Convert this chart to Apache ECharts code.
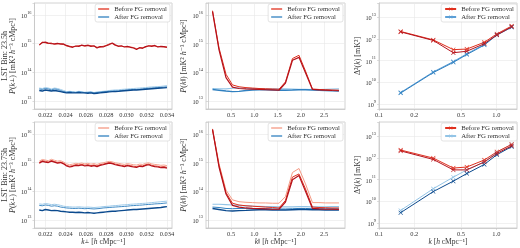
<!DOCTYPE html>
<html>
<head>
<meta charset="utf-8">
<script src="https://cdn.jsdelivr.net/npm/echarts@6/dist/echarts.min.js"></script>
<style>
html, body { margin: 0; padding: 0; background: #fff; }
#chart { width: 520px; height: 248px; }
</style>
</head>
<body>
<div id="chart"></div>
<script>
// k_perp bins (h/cMpc)
const kPerp = [0.0214, 0.0217, 0.0220, 0.0223, 0.0226, 0.0229, 0.0232, 0.0235, 0.0238, 0.0241,
  0.0244, 0.0247, 0.0250, 0.0253, 0.0256, 0.0259, 0.0262, 0.0265, 0.0268, 0.0271,
  0.0274, 0.0277, 0.0280, 0.0283, 0.0286, 0.0289, 0.0292, 0.0295, 0.0298, 0.0301,
  0.0304, 0.0307, 0.0310, 0.0313, 0.0316, 0.0319, 0.0322, 0.0325, 0.0328, 0.0331,
  0.0334, 0.0337, 0.0340];

// LST 23.5h, P(k_perp)
const p1RedA = [88e13, 108e13, 112e13, 104e13, 100e13, 98e13, 102e13, 95e13, 97e13, 86e13,
  78e13, 74e13, 82e13, 80e13, 88e13, 84e13, 86e13, 80e13, 84e13, 70e13,
  78e13, 76e13, 84e13, 92e13, 104e13, 90e13, 80e13, 84e13, 76e13, 80e13,
  74e13, 70e13, 62e13, 72e13, 68e13, 78e13, 84e13, 80e13, 86e13, 76e13,
  80e13, 78e13, 74e13];
const p1RedB = [92e13, 112e13, 106e13, 100e13, 104e13, 94e13, 98e13, 100e13, 92e13, 82e13,
  80e13, 78e13, 80e13, 84e13, 86e13, 80e13, 88e13, 84e13, 80e13, 74e13,
  76e13, 80e13, 86e13, 96e13, 100e13, 86e13, 82e13, 80e13, 78e13, 76e13,
  76e13, 72e13, 66e13, 70e13, 72e13, 76e13, 82e13, 84e13, 82e13, 78e13,
  78e13, 76e13, 76e13];
const p1BlueA = [23e12, 22e12, 24e12, 23e12, 22e12, 23e12, 22e12, 21e12, 20e12, 19e12,
  19.5e12, 19e12, 19e12, 19.5e12, 19e12, 19e12, 18.5e12, 19e12, 18e12, 18.5e12,
  19e12, 19.5e12, 20e12, 20.5e12, 21e12, 21e12, 21.5e12, 22e12, 22.5e12, 23e12,
  23.5e12, 24e12, 24e12, 24.5e12, 25e12, 25.5e12, 26e12, 26.5e12, 27e12, 27.5e12,
  28e12, 28.5e12, 29e12];
const p1BlueB = [26e12, 25e12, 27e12, 26e12, 24e12, 26e12, 25e12, 23e12, 21e12, 20e12,
  20.5e12, 20e12, 19.5e12, 20.5e12, 20e12, 19e12, 19.5e12, 20e12, 18.5e12, 19.5e12,
  20e12, 20.5e12, 21e12, 21.5e12, 22e12, 22.5e12, 22e12, 23e12, 23.5e12, 24e12,
  24.5e12, 25e12, 25e12, 25.5e12, 26e12, 27e12, 27.5e12, 28e12, 28.5e12, 29e12,
  29.5e12, 30e12, 31e12];
const p1BlueC = [28e12, 27e12, 29e12, 28e12, 26e12, 28e12, 27e12, 25e12, 23e12, 21e12,
  21.5e12, 21e12, 20.5e12, 21.5e12, 21e12, 20e12, 20.5e12, 21e12, 19.5e12, 20.5e12,
  21e12, 21.5e12, 22e12, 23e12, 23.5e12, 24e12, 24e12, 25e12, 25.5e12, 26e12,
  26.5e12, 27e12, 27.5e12, 28e12, 28.5e12, 29e12, 30e12, 30.5e12, 31e12, 31.5e12,
  32e12, 33e12, 34e12];

// LST 23.75h, P(k_perp)
const p4RedA = [95e13, 110e13, 104e13, 100e13, 112e13, 104e13, 96e13, 100e13, 90e13, 76e13,
  70e13, 74e13, 80e13, 78e13, 82e13, 76e13, 80e13, 74e13, 78e13, 72e13,
  80e13, 84e13, 90e13, 96e13, 92e13, 84e13, 80e13, 76e13, 72e13, 78e13,
  74e13, 70e13, 68e13, 74e13, 72e13, 80e13, 84e13, 76e13, 72e13, 70e13,
  66e13, 68e13, 64e13];
const p4RedB = [100e13, 116e13, 110e13, 104e13, 118e13, 108e13, 100e13, 104e13, 94e13, 80e13,
  74e13, 78e13, 84e13, 82e13, 86e13, 80e13, 84e13, 78e13, 82e13, 76e13,
  84e13, 88e13, 94e13, 100e13, 96e13, 88e13, 84e13, 80e13, 76e13, 82e13,
  78e13, 74e13, 72e13, 78e13, 76e13, 84e13, 88e13, 80e13, 76e13, 74e13,
  70e13, 72e13, 68e13];
const p4RedC = [112e13, 128e13, 122e13, 116e13, 130e13, 120e13, 112e13, 116e13, 104e13, 90e13,
  84e13, 88e13, 94e13, 92e13, 96e13, 90e13, 94e13, 88e13, 92e13, 86e13,
  94e13, 98e13, 104e13, 110e13, 106e13, 98e13, 94e13, 90e13, 86e13, 92e13,
  88e13, 84e13, 82e13, 88e13, 86e13, 94e13, 98e13, 90e13, 86e13, 84e13,
  80e13, 82e13, 78e13];
const p4BlueA = [22e12, 21e12, 23e12, 22e12, 21e12, 21.5e12, 21e12, 20e12, 19.5e12, 19e12,
  18.5e12, 18.5e12, 18e12, 18.5e12, 18e12, 17.5e12, 18e12, 17.5e12, 17e12, 17.5e12,
  18e12, 18.5e12, 19e12, 19.5e12, 20e12, 20e12, 20.5e12, 21e12, 21.5e12, 22e12,
  22.5e12, 23e12, 23e12, 23.5e12, 24e12, 24.5e12, 25e12, 25.5e12, 26e12, 26.5e12,
  27e12, 28e12, 29e12];
const p4BlueB = [32e12, 31e12, 33e12, 32e12, 30e12, 31e12, 30e12, 28e12, 27e12, 26e12,
  25.5e12, 25e12, 25e12, 25.5e12, 25e12, 24.5e12, 25e12, 24.5e12, 24e12, 24.5e12,
  25e12, 26e12, 26.5e12, 27e12, 27.5e12, 28e12, 28.5e12, 29e12, 29.5e12, 30e12,
  31e12, 31.5e12, 32e12, 32.5e12, 33e12, 34e12, 34.5e12, 35e12, 36e12, 36.5e12,
  37e12, 38e12, 39e12];
const p4BlueC = [36e12, 35e12, 37e12, 36e12, 34e12, 35e12, 34e12, 32e12, 30e12, 29e12,
  28.5e12, 28e12, 28e12, 28.5e12, 28e12, 27.5e12, 28e12, 27.5e12, 27e12, 27.5e12,
  28e12, 29e12, 29.5e12, 30e12, 31e12, 31.5e12, 32e12, 33e12, 33.5e12, 34e12,
  35e12, 35.5e12, 36e12, 37e12, 37.5e12, 38e12, 39e12, 40e12, 41e12, 42e12,
  43e12, 44e12, 45e12];

// k_par bins (h/cMpc)
const kPar = [0.10, 0.24, 0.39, 0.53, 0.67, 0.82, 0.96, 1.10, 1.24, 1.39,
  1.53, 1.67, 1.82, 1.96, 2.10, 2.25, 2.39, 2.53, 2.67, 2.82];

const p2RedA = [1.3e16, 6e14, 6.5e13, 3.0e13, 2.7e13, 2.6e13, 2.55e13, 2.5e13, 2.45e13, 2.4e13,
  2.35e13, 4.2e13, 2.6e14, 3.3e14, 9.5e13, 2.5e13, 2.4e13, 2.35e13, 2.3e13, 2.25e13];
const p2RedB = [1.4e16, 7e14, 8.5e13, 3.6e13, 3.1e13, 2.9e13, 2.8e13, 2.7e13, 2.65e13, 2.6e13,
  2.55e13, 4.6e13, 3e14, 3.9e14, 1.1e14, 2.6e13, 2.5e13, 2.45e13, 2.4e13, 2.35e13];
const p2BlueA = [2.5e13, 2.35e13, 2.2e13, 2.1e13, 2.15e13, 2.3e13, 2.4e13, 2.45e13, 2.45e13, 2.4e13,
  2.35e13, 2.35e13, 2.4e13, 2.45e13, 2.45e13, 2.4e13, 2.35e13, 2.3e13, 2.25e13, 2.2e13];
const p2BlueB = [2.7e13, 2.65e13, 2.6e13, 2.75e13, 2.8e13, 2.75e13, 2.7e13, 2.65e13, 2.6e13, 2.6e13,
  2.6e13, 2.6e13, 2.55e13, 2.5e13, 2.5e13, 2.45e13, 2.45e13, 2.5e13, 2.55e13, 2.6e13];

const p5RedA = [1.4e16, 7e14, 8e13, 3.2e13, 2.8e13, 2.6e13, 2.5e13, 2.45e13, 2.4e13, 2.35e13,
  2.35e13, 4.2e13, 2.5e14, 3.5e14, 1e14, 2.5e13, 2.4e13, 2.35e13, 2.35e13, 2.3e13];
const p5RedB = [1.45e16, 8e14, 9e13, 3.8e13, 3.3e13, 3.1e13, 3e13, 2.9e13, 2.8e13, 2.7e13,
  2.6e13, 4.8e13, 3.1e14, 4e14, 1.2e14, 2.8e13, 2.7e13, 2.65e13, 2.6e13, 2.6e13];
const p5RedC = [1.5e16, 9e14, 1.1e14, 5e13, 4.3e13, 4.1e13, 4e13, 3.9e13, 3.9e13, 3.8e13,
  3.8e13, 6.5e13, 4.5e14, 6.2e14, 1.8e14, 4e13, 4e13, 3.9e13, 3.9e13, 3.9e13];
const p5BlueA = [2.5e13, 2.3e13, 2.1e13, 2.05e13, 2.1e13, 2.15e13, 2.2e13, 2.25e13, 2.25e13, 2.2e13,
  2.2e13, 2.2e13, 2.25e13, 2.3e13, 2.3e13, 2.25e13, 2.25e13, 2.2e13, 2.2e13, 2.2e13];
const p5BlueB = [2.8e13, 2.7e13, 2.5e13, 2.45e13, 2.5e13, 2.5e13, 2.5e13, 2.45e13, 2.45e13, 2.4e13,
  2.4e13, 2.4e13, 2.45e13, 2.5e13, 2.5e13, 2.45e13, 2.45e13, 2.45e13, 2.45e13, 2.45e13];
const p5BlueC = [3.5e13, 3.5e13, 3.4e13, 3.3e13, 3.2e13, 3.1e13, 3.0e13, 2.95e13, 2.9e13, 2.9e13,
  2.85e13, 2.85e13, 2.85e13, 2.9e13, 2.9e13, 2.85e13, 2.85e13, 2.85e13, 2.9e13, 2.9e13];

// spherical k bins, Delta^2(k)
const kSph = [0.153, 0.29, 0.43, 0.56, 0.79, 1.01, 1.35];
const p3RedA = [2.1e12, 8.5e11, 2.3e11, 2.7e11, 6e11, 1.5e12, 3.6e12];
const p3RedB = [2.2e12, 9e11, 3.2e11, 3.4e11, 7e11, 1.7e12, 3.9e12];
const p3BlueA = [3.2e9, 2.8e10, 8.3e10, 1.9e11, 5.2e11, 1.5e12, 3.4e12];
const p3BlueB = [3.4e9, 3e10, 9e10, 2.05e11, 5.6e11, 1.6e12, 3.6e12];
const p6RedA = [2.1e12, 8.5e11, 2.8e11, 2.8e11, 6.5e11, 1.6e12, 3.6e12];
const p6RedB = [2.3e12, 9.8e11, 3.4e11, 3.8e11, 8e11, 1.9e12, 4.2e12];
const p6BlueA = [3e9, 2.8e10, 8.5e10, 1.9e11, 5e11, 1.4e12, 3.3e12];
const p6BlueB = [3.8e9, 3.8e10, 1.3e11, 2.8e11, 6.5e11, 1.8e12, 4.2e12];

const perpTicks = [0.022, 0.024, 0.026, 0.028, 0.030, 0.032, 0.034];
const parTicks = [0.5, 1.0, 1.5, 2.0, 2.5];
const sphTicks = [0.1, 0.2, 0.5, 1.0];

const FONT = '"Liberation Serif", "DejaVu Serif", serif';
const TXT = '#333';
const SPINE = '#c6c6c6';
const GRIDC = '#e8e8e8';
const RED_D = '#b5121b', RED = '#e0301e', RED_L = '#f59a84';
const BLUE_D = '#0b4a8e', BLUE = '#3080c0', BLUE_L = '#93c4e6', BLUE_M = '#5c9fd6';
const XMARK = 'path://M0,1L1,0L5,4L9,0L10,1L6,5L10,9L9,10L5,6L1,10L0,9L4,5Z';

const nameRich = {
  i: { fontStyle: 'italic', fontFamily: FONT, fontSize: 8, color: TXT },
  sub: { fontSize: 5.5, fontFamily: FONT, color: TXT }
};
const xNameRich = {
  i: { fontStyle: 'italic', fontFamily: FONT, fontSize: 7.5, color: TXT },
  sub: { fontSize: 5.2, fontFamily: FONT, color: TXT }
};
const powRich = {
  b: { fontSize: 6.3, lineHeight: 9, verticalAlign: 'bottom', fontFamily: FONT, color: TXT },
  s: { fontSize: 4.3, lineHeight: 5, verticalAlign: 'top', fontFamily: FONT, color: TXT }
};

function powLabel(v) {
  const e = Math.log10(v);
  if (Math.abs(e - Math.round(e)) > 1e-6) return '';
  return '{b|10}{s|' + Math.round(e) + '}';
}

const grids = [
  { left: 33, top: 3, width: 139, height: 106 },
  { left: 206, top: 3, width: 139, height: 106 },
  { left: 379, top: 3, width: 138, height: 106 },
  { left: 33, top: 122, width: 139, height: 106 },
  { left: 206, top: 122, width: 139, height: 106 },
  { left: 379, top: 122, width: 138, height: 106 }
].map(g => Object.assign({ show: true, borderColor: SPINE, borderWidth: 0.8, backgroundColor: '#fff' }, g));

function yLog(gi, min, max, name, gap) {
  return {
    type: 'log', logBase: 10, gridIndex: gi, min: min, max: max,
    name: name, nameLocation: 'middle', nameRotate: 90, nameGap: gap,
    nameTextStyle: { fontFamily: FONT, fontSize: 8, color: TXT, lineHeight: 8, rich: nameRich },
    axisLine: { show: true, lineStyle: { color: SPINE, width: 0.8 } },
    axisTick: { show: true, length: 2, lineStyle: { color: SPINE, width: 0.6 } },
    axisLabel: { formatter: powLabel, rich: powRich, margin: 3 },
    splitLine: { show: true, lineStyle: { color: GRIDC, width: 0.6 } }
  };
}

function xAx(gi, type, min, max, ticks, fmt, name) {
  return {
    type: type, gridIndex: gi, min: min, max: max,
    name: name, nameLocation: 'middle', nameGap: 10,
    nameTextStyle: { fontFamily: FONT, fontSize: 7.5, color: TXT, rich: xNameRich },
    axisLine: { show: true, lineStyle: { color: SPINE, width: 0.8 } },
    axisTick: { show: true, length: 2, customValues: ticks, lineStyle: { color: SPINE, width: 0.6 } },
    axisLabel: { customValues: ticks, formatter: fmt, fontFamily: FONT, fontSize: 6.4, color: TXT, margin: 3 },
    splitLine: { show: true, lineStyle: { color: GRIDC, width: 0.6 } }
  };
}

function ln(ai, xs, ys, color, width, name, marks) {
  return {
    type: 'line', xAxisIndex: ai, yAxisIndex: ai, name: name,
    data: xs.map((x, i) => [x, ys[i]]),
    symbol: marks ? XMARK : 'none', symbolSize: 4.5, showSymbol: !!marks,
    lineStyle: { color: color, width: width }, itemStyle: { color: color },
    silent: true
  };
}

function legend(right, top, sfx, marks) {
  const names = ['Before FG removal#' + sfx, 'After FG removal#' + sfx];
  return {
    orient: 'vertical', right: right, top: top,
    data: marks ? names : names.map(n => ({ name: n, icon: 'rect' })),
    formatter: n => n.split('#')[0],
    itemWidth: 11, itemHeight: marks ? 4.5 : 1.3, itemGap: 0,
    padding: [1, 3, 1, 3], borderColor: '#d2d2d2', borderWidth: 0.6, borderRadius: 2,
    backgroundColor: 'rgba(255,255,255,0.9)', selectedMode: false,
    textStyle: { fontFamily: FONT, fontSize: 6.8, color: TXT, lineHeight: 8 }
  };
}

const fmtPerp = v => v.toFixed(3);
const fmtOne = v => v.toFixed(1);
const perpName = '{i|k}{sub|⊥} [{i|h} cMpc⁻¹]';
const parName = '{i|k}{sub|∥} [{i|h} cMpc⁻¹]';
const sphName = '{i|k} [{i|h} cMpc⁻¹]';
const pPerp = '{i|P}({i|k}{sub|⊥}) [mK² {i|h}⁻³ cMpc³]';
const pPar = '{i|P}({i|k}{sub|∥}) [mK² {i|h}⁻³ cMpc³]';
const dName = 'Δ²({i|k}) [mK²]';

const PMIN = 5.2e12, PMAX = 2.6e16, DMIN = 5.9e8, DMAX = 4.5e13;

const option = {
  animation: false,
  grid: grids,
  xAxis: [
    xAx(0, 'value', 0.02093, 0.0345, perpTicks, fmtPerp, ''),
    xAx(1, 'value', -0.04, 2.95, parTicks, fmtOne, ''),
    xAx(2, 'log', 0.1, 1.5, sphTicks, fmtOne, ''),
    xAx(3, 'value', 0.02093, 0.0345, perpTicks, fmtPerp, perpName),
    xAx(4, 'value', -0.04, 2.95, parTicks, fmtOne, parName),
    xAx(5, 'log', 0.1, 1.5, sphTicks, fmtOne, sphName)
  ],
  yAxis: [
    yLog(0, PMIN, PMAX, 'LST Bin: 23.5h\n' + pPerp, 15),
    yLog(1, PMIN, PMAX, pPar, 18),
    yLog(2, DMIN, DMAX, dName, 14),
    yLog(3, PMIN, PMAX, 'LST Bin: 23.75h\n' + pPerp, 15),
    yLog(4, PMIN, PMAX, pPar, 18),
    yLog(5, DMIN, DMAX, dName, 14)
  ],
  legend: [
    legend(350, 4, 1, false),
    legend(177, 4, 2, false),
    legend(3, 4, 3, true),
    legend(350, 123, 4, false),
    legend(177, 123, 5, false),
    legend(3, 123, 6, true)
  ],
  series: [
    ln(0, kPerp, p1BlueC, BLUE_L, 0.9), ln(0, kPerp, p1BlueB, BLUE, 0.9, 'After FG removal#1'),
    ln(0, kPerp, p1BlueA, BLUE_D, 1.4),
    ln(0, kPerp, p1RedB, RED, 0.9, 'Before FG removal#1'), ln(0, kPerp, p1RedA, RED_D, 1.2),

    ln(1, kPar, p2BlueB, BLUE_L, 1.2), ln(1, kPar, p2BlueA, BLUE, 1.4, 'After FG removal#2'),
    ln(1, kPar, p2RedB, RED, 1.0, 'Before FG removal#2'), ln(1, kPar, p2RedA, RED_D, 1.2),

    ln(2, kSph, p3BlueB, BLUE_M, 1.0, 'After FG removal#3', true), ln(2, kSph, p3BlueA, BLUE, 1.0, null, true),
    ln(2, kSph, p3RedB, RED, 1.0, 'Before FG removal#3', true), ln(2, kSph, p3RedA, RED_D, 1.0, null, true),

    ln(3, kPerp, p4BlueC, BLUE_L, 0.9), ln(3, kPerp, p4BlueB, BLUE, 0.9, 'After FG removal#4'),
    ln(3, kPerp, p4BlueA, BLUE_D, 1.4),
    ln(3, kPerp, p4RedC, RED_L, 0.9, 'Before FG removal#4'), ln(3, kPerp, p4RedB, RED, 0.9),
    ln(3, kPerp, p4RedA, RED_D, 1.2),

    ln(4, kPar, p5BlueC, BLUE_L, 1.2), ln(4, kPar, p5BlueB, BLUE, 1.0, 'After FG removal#5'),
    ln(4, kPar, p5BlueA, BLUE_D, 1.4),
    ln(4, kPar, p5RedC, RED_L, 1.0, 'Before FG removal#5'), ln(4, kPar, p5RedB, RED, 1.0),
    ln(4, kPar, p5RedA, RED_D, 1.2),

    ln(5, kSph, p6BlueB, BLUE_L, 1.0, 'After FG removal#6', true), ln(5, kSph, p6BlueA, BLUE_D, 1.0, null, true),
    ln(5, kSph, p6RedB, RED, 1.0, 'Before FG removal#6', true), ln(5, kSph, p6RedA, RED_D, 1.0, null, true)
  ]
};

const chart = echarts.init(document.getElementById('chart'), null, { renderer: 'canvas' });
chart.setOption(option);
</script>
</body>
</html>
